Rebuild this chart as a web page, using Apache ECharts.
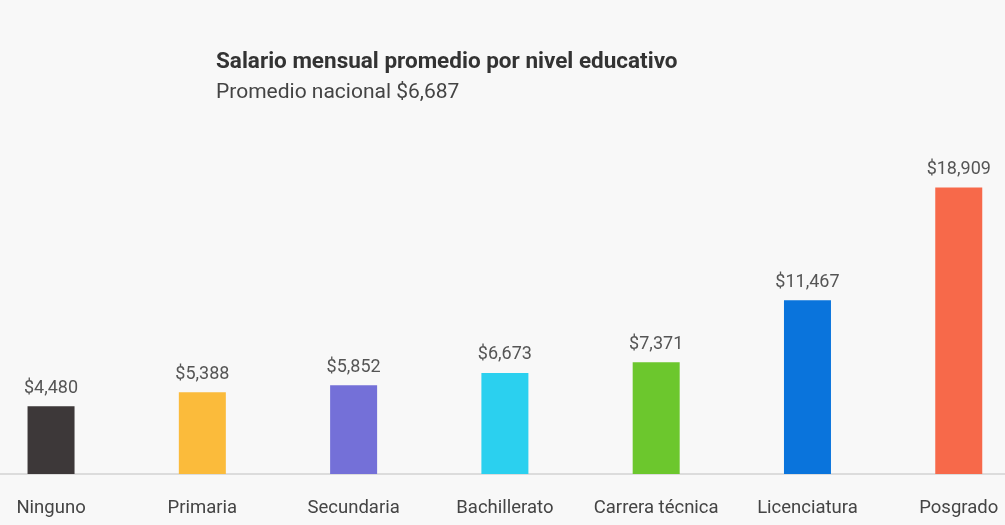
<!DOCTYPE html>
<html>
<head>
<meta charset="utf-8">
<script src="https://cdn.jsdelivr.net/npm/echarts@6/dist/echarts.min.js"></script>
<style>html,body{margin:0;padding:0;background:#f8f8f8;}#c{width:1005px;height:525px;}</style>
</head>
<body>
<div id="c"></div>
<script>
const categories = ['Ninguno', 'Primaria', 'Secundaria', 'Bachillerato', 'Carrera técnica', 'Licenciatura', 'Posgrado'];
const salaries = [4480, 5388, 5852, 6673, 7371, 11467, 18909];
const barColors = ['#3d3839', '#fbbb3b', '#7470d8', '#2bd0ef', '#6cc72d', '#0a74dc', '#f7694a'];
const titleText = 'Salario mensual promedio por nivel educativo';
const subtitleText = 'Promedio nacional $6,687';

const font = 'Roboto, "Liberation Sans", sans-serif';
const chart = echarts.init(document.getElementById('c'));
chart.setOption({
  backgroundColor: '#f8f8f8',
  animation: false,
  title: {
    text: titleText,
    subtext: subtitleText,
    left: 211,
    top: 46,
    itemGap: 8,
    textStyle: { fontFamily: font, fontSize: 22.5, fontWeight: 'bold', color: '#333' },
    subtextStyle: { fontFamily: font, fontSize: 21, color: '#444' }
  },
  grid: { left: -24.6, width: 1059, top: 171, bottom: 51, outerBoundsMode: 'none', containLabel: false },
  xAxis: {
    type: 'category',
    data: categories,
    axisTick: { show: false },
    axisLine: { lineStyle: { color: '#dcdcdc', width: 2 } },
    axisLabel: { interval: 0, fontFamily: font, fontSize: 18.5, color: '#444', margin: 25 }
  },
  yAxis: {
    type: 'value',
    min: 0,
    max: 20000,
    show: false,
    splitLine: { show: false }
  },
  series: [{
    type: 'bar',
    barWidth: 47,
    data: salaries.map((v, i) => ({ value: v, itemStyle: { color: barColors[i] } })),
    label: {
      show: true,
      position: 'top',
      distance: 9,
      fontFamily: font,
      fontSize: 18,
      color: '#555',
      formatter: p => '$' + p.value.toLocaleString('en-US')
    }
  }]
});
</script>
</body>
</html>
